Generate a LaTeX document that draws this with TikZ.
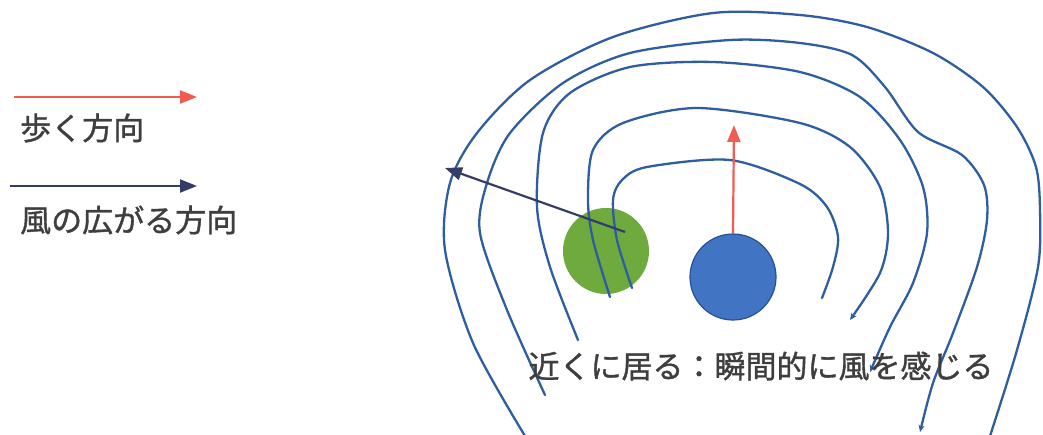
\documentclass[tikz,border=0pt]{standalone}
\usepackage{fontspec}
\newfontfamily\jp[FakeBold=1.2]{Noto Sans CJK JP}
\usetikzlibrary{arrows.meta}
\definecolor{wind}{RGB}{46,94,160}
\definecolor{greenc}{RGB}{110,170,62}
\definecolor{bluec}{RGB}{66,116,196}
\definecolor{bluee}{RGB}{40,80,150}
\definecolor{redar}{RGB}{240,92,82}
\definecolor{navyar}{RGB}{52,60,104}
\definecolor{txt}{RGB}{62,62,62}
\tikzset{
  windline/.style={draw=wind, line width=2.3pt, line cap=round},
  windtip/.style={-{Stealth[length=7pt,width=6pt]}},
  walkarrow/.style={draw=redar, line width=2.2pt, -{Triangle[length=17pt,width=13pt]}},
  spreadarrow/.style={draw=navyar, line width=2.2pt, -{Triangle[length=17pt,width=13pt]}},
  label/.style={font=\jp\fontsize{31}{36}\selectfont, text=txt, inner sep=0pt},
  dot/.style={circle, inner sep=0pt, minimum size=86pt}
}
\begin{document}
\begin{tikzpicture}[x=1pt,y={(0pt,-1pt)}]
\useasboundingbox (0,0) rectangle (1043,434);
\clip (0,0) rectangle (1043,434);
% legend
\coordinate (l1s) at (14,97);
\coordinate (l1e) at (197,97);
\draw[walkarrow] (l1s) -- (l1e);
\node[label, anchor=west] (t1) at (20,128) {歩く方向};
\coordinate (l2s) at (10,186);
\coordinate (l2e) at (197,186);
\draw[spreadarrow] (l2s) -- (l2e);
\node[label, anchor=west] (t2) at (20,220) {風の広がる方向};
% people
\node[dot, fill=greenc] (green) at (606,251) {};
\node[dot, fill=bluec, draw=bluee, line width=1.2pt] (blue) at (733,277) {};
% wind curves
\draw[windline] plot[smooth] coordinates {(632,288) (617,240) (613,200) (622,180) (647,167) (730,160) (800,184) (827,207) (838,237) (833,267) (822,298)};
\draw[windline, windtip] plot[smooth] coordinates {(610,297) (593,240) (588,200) (593,150) (623,123) (697,108) (800,123) (850,147) (880,187) (888,233) (880,273) (850,320)};
\draw[windline, windtip] plot[smooth] coordinates {(578,340) (550,267) (537,207) (543,133) (570,93) (630,67) (713,62) (800,72) (860,97) (900,140) (923,187) (927,233) (913,283) (890,327) (870,372)};
\draw[windline, windtip] plot[smooth] coordinates {(545,395) (507,310) (480,233) (487,183) (510,133) (563,83) (630,53) (730,40) (800,43) (852,55) (885,87) (918,132) (962,155) (984,185) (987,220) (977,267) (953,333) (933,383) (920,432)};
\draw[windline] plot[smooth] coordinates {(525,436) (473,343) (445,250) (450,183) (477,133) (530,80) (613,37) (713,13) (800,15) (867,27) (933,53) (983,87) (1017,127) (1036,167) (1040,210) (1038,267) (1017,350) (990,436)};
% arrows
\coordinate (gstart) at (625,232);
\coordinate (gtip) at (445,168);
\draw[spreadarrow] (gstart) -- (gtip);
\coordinate (rtip) at (734,125);
\draw[walkarrow] (blue.north) -- (rtip);
% caption
\node[label] (cap) at (761,366) {近くに居る：瞬間的に風を感じる};
\end{tikzpicture}
\end{document}
